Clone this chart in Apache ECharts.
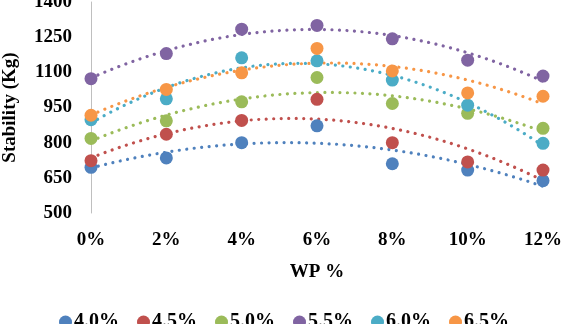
<!DOCTYPE html>
<html>
<head>
<meta charset="utf-8">
<script src="https://cdn.jsdelivr.net/npm/echarts@6/dist/echarts.min.js"></script>
<style>
  html, body { margin: 0; padding: 0; background: #fff; }
  #chart { width: 568px; height: 324px; }
</style>
</head>
<body>
<div id="chart"></div>
<script>
// WP content (%) on the horizontal axis
const wpLevels = [0, 2, 4, 6, 8, 10, 12];
// Series names (binder content)
const seriesNames = ['4.0%', '4.5%', '5.0%', '5.5%', '6.0%', '6.5%'];
// Marshall stability (Kg) at each WP level
const stab40 = [695, 735, 800, 872, 710, 683, 638];
const stab45 = [723, 836, 895, 985, 800, 718, 683];
const stab50 = [818, 893, 974, 1078, 967, 925, 861];
const stab55 = [1073, 1180, 1284, 1300, 1243, 1152, 1084];
const stab60 = [898, 987, 1162, 1149, 1067, 960, 797];
const stab65 = [917, 1027, 1098, 1202, 1106, 1012, 998];
const yTicks = [500, 650, 800, 950, 1100, 1250, 1400];

const allSeries = [stab40, stab45, stab50, stab55, stab60, stab65];
const colors = ['#4F81BD', '#C0504D', '#9BBB59', '#8064A2', '#4BACC6', '#F79646'];

// Least-squares second order polynomial through the points
function quadFit(xs, ys) {
  let s0 = 0, s1 = 0, s2 = 0, s3 = 0, s4 = 0, t0 = 0, t1 = 0, t2 = 0;
  xs.forEach((x, i) => {
    const y = ys[i];
    s0 += 1; s1 += x; s2 += x * x; s3 += x * x * x; s4 += x * x * x * x;
    t0 += y; t1 += x * y; t2 += x * x * y;
  });
  const M = [[s0, s1, s2, t0], [s1, s2, s3, t1], [s2, s3, s4, t2]];
  for (let c = 0; c < 3; c++) {
    for (let r = c + 1; r < 3; r++) {
      const f = M[r][c] / M[c][c];
      for (let k = c; k < 4; k++) M[r][k] -= f * M[c][k];
    }
  }
  const coef = [0, 0, 0];
  for (let r = 2; r >= 0; r--) {
    let v = M[r][3];
    for (let k = r + 1; k < 3; k++) v -= M[r][k] * coef[k];
    coef[r] = v / M[r][r];
  }
  return coef;
}

function trendPoints(ys) {
  const c = quadFit(wpLevels, ys);
  const pts = [];
  for (let x = 0; x <= 12.0001; x += 0.25) {
    pts.push([x, c[0] + c[1] * x + c[2] * x * x]);
  }
  return pts;
}

const font = '"Liberation Serif", "Times New Roman", serif';
const series = [];
allSeries.forEach((ys, i) => {
  series.push({
    type: 'line',
    data: trendPoints(ys),
    showSymbol: false,
    silent: true,
    z: 1,
    lineStyle: { color: colors[i], width: 3.2, type: [0.01, 7.5], cap: 'round' }
  });
});
allSeries.forEach((ys, i) => {
  series.push({
    name: seriesNames[i],
    type: 'scatter',
    data: wpLevels.map((x, j) => [x, ys[j]]),
    symbol: 'circle',
    symbolSize: 13,
    z: 3,
    itemStyle: { color: colors[i], opacity: 1 }
  });
});

const chart = echarts.init(document.getElementById('chart'), null, { renderer: 'canvas' });
chart.setOption({
  animation: false,
  color: colors,
  grid: { left: 91, right: 25, top: 2, bottom: 111, containLabel: false, outerBoundsMode: 'none' },
  xAxis: {
    type: 'value', min: 0, max: 12, interval: 2,
    name: 'WP %', nameLocation: 'middle', nameGap: 50,
    nameTextStyle: { fontFamily: font, fontWeight: 'bold', fontSize: 19, color: '#000' },
    axisLine: { show: false }, axisTick: { show: false }, splitLine: { show: false },
    axisLabel: { formatter: v => v + '%', margin: 18, fontFamily: font, fontWeight: 'bold', fontSize: 19, color: '#000' }
  },
  yAxis: {
    type: 'value', min: yTicks[0], max: yTicks[yTicks.length - 1], interval: yTicks[1] - yTicks[0],
    name: 'Stability (Kg)', nameLocation: 'middle', nameGap: 71,
    nameTextStyle: { fontFamily: font, fontWeight: 'bold', fontSize: 19, color: '#000' },
    axisLine: { show: true, lineStyle: { color: '#BFBFBF', width: 1 } },
    axisTick: { show: false }, splitLine: { show: false },
    axisLabel: { formatter: v => String(v), margin: 19, fontFamily: font, fontWeight: 'bold', fontSize: 19, color: '#000' }
  },
  legend: {
    data: seriesNames,
    left: 'center', top: 307,
    icon: 'circle', itemWidth: 13, itemHeight: 13, itemGap: 18,
    textStyle: { fontFamily: font, fontWeight: 'bold', fontSize: 20, color: '#000', padding: [0, 0, 0, -3] }
  },
  series: series
});
</script>
</body>
</html>
